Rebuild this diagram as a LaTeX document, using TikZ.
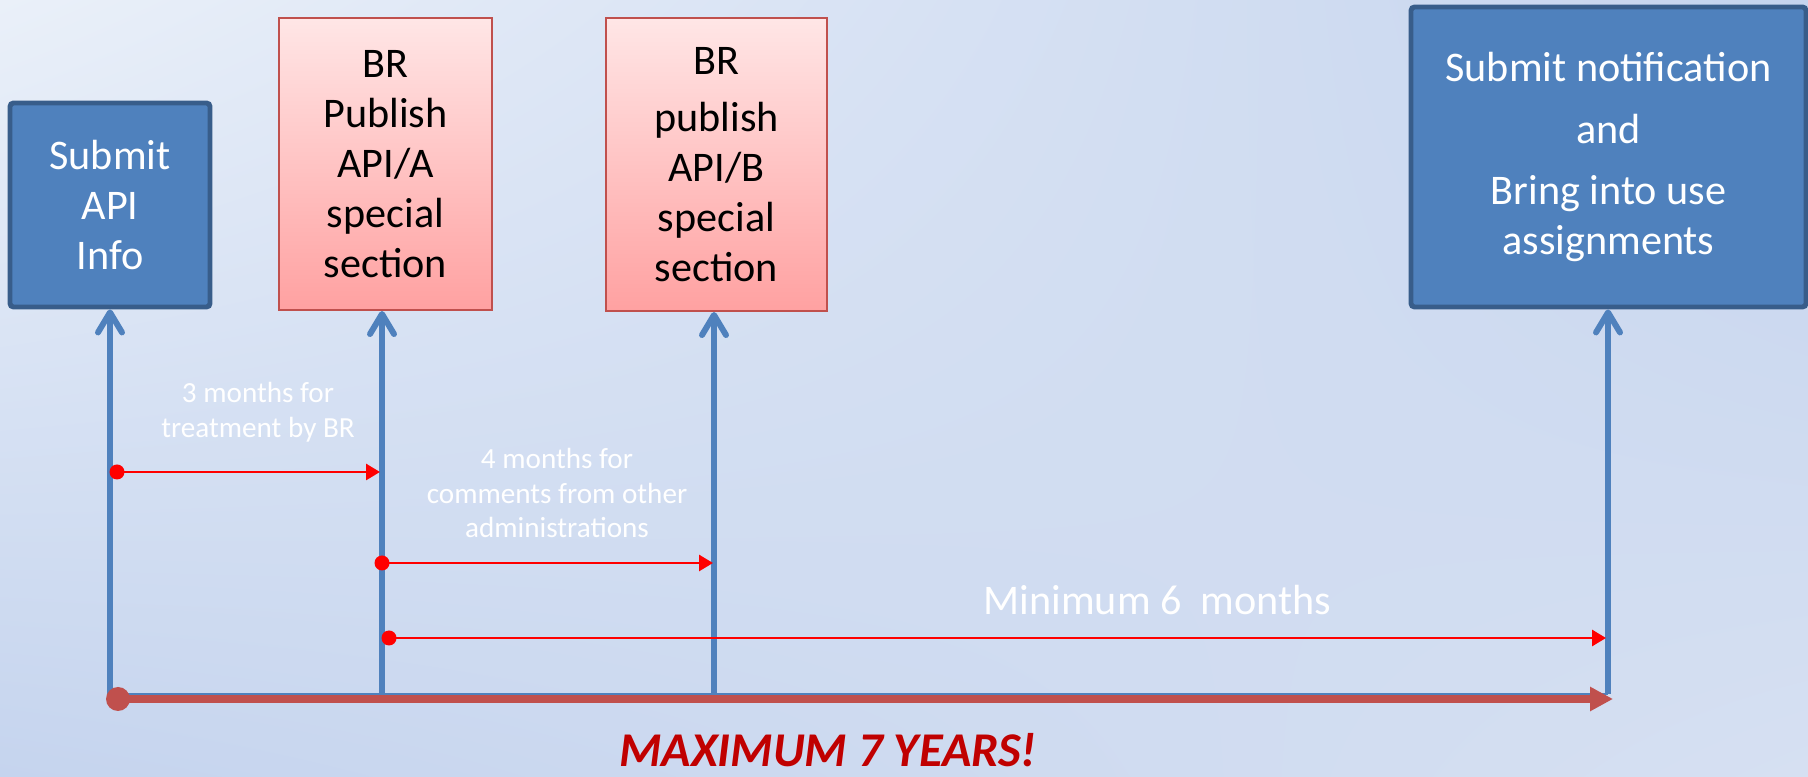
\documentclass[tikz,border=0pt]{standalone}
\usepackage{fontspec}
\setmainfont{Carlito}
\usetikzlibrary{arrows.meta}
\usetikzlibrary{shadings}

\definecolor{boxblue}{HTML}{4F81BD}
\definecolor{boxline}{HTML}{385D8A}
\definecolor{pinktop}{HTML}{FFE6E6}
\definecolor{pinkbot}{HTML}{FFA1A1}
\definecolor{pinkline}{HTML}{C0504D}
\definecolor{axisred}{HTML}{C0504D}
\definecolor{darkred}{HTML}{C00000}
\definecolor{bgtl}{HTML}{EAF0F9}
\definecolor{bgtr}{HTML}{C5D4EE}
\definecolor{bgbl}{HTML}{C5D4EE}
\definecolor{bgbr}{HTML}{D6E0F2}

\begin{document}
\begin{tikzpicture}[
      bluebox/.style={draw=boxline, line width=1.4pt, fill=boxblue, rounded corners=1pt,
          text=white, align=center, inner sep=0pt, font=\fontsize{12}{14.2}\selectfont},
      pinkbox/.style={draw=pinkline, line width=0.6pt, top color=pinktop, bottom color=pinkbot,
          align=center, inner sep=0pt, font=\fontsize{12}{14.2}\selectfont},
      note/.style={text=white, align=center, font=\fontsize{8.3}{9.9}\selectfont},
      up/.style={draw=boxblue, line width=1.7pt, -{Straight Barb[round, length=2mm, width=2.4mm]}},
      span/.style={draw=red, line width=0.8pt, -{Triangle[length=1.4mm, width=1.6mm]}},
      ]
        \shade[upper left=bgtl, upper right=bgtr, lower left=bgbl, lower right=bgbr]
            (0,0) rectangle (18.08,7.77);
        \useasboundingbox (0,0) rectangle (18.08,7.77);

        \node[bluebox, minimum width=2cm, minimum height=2.04cm] (api) at (1.10,5.72)
            {Submit\\API\\Info};
        \node[pinkbox, minimum width=2.13cm, minimum height=2.92cm] (brA) at (3.855,6.13)
            {BR\\Publish\\API/A\\special\\section};
        \node[pinkbox, minimum width=2.21cm, minimum height=2.93cm] (brB) at (7.165,6.125)
            {BR\\[2.3pt]publish\\API/B\\special\\section};
        \node[bluebox, minimum width=3.95cm, minimum height=3cm] (notif) at (16.085,6.20)
            {Submit notification\\[3.4pt]and\\[3.4pt]Bring into use\\assignments};

        \coordinate (b1) at (1.10,0.83);
        \coordinate (b2) at (3.82,0.83);
        \coordinate (b3) at (7.14,0.83);
        \coordinate (b4) at (16.08,0.83);

        \draw[boxblue, line width=0.85pt] (b1) -- (b4);
        \foreach \b/\n in {b1/api, b2/brA, b3/brB, b4/notif}
            \draw[up] (\b) -- (\b |- \n.south);

        \coordinate (t0) at (1.18,0.78);
        \coordinate (t1) at (16.13,0.78);
        \draw[axisred, line width=2.3pt, -{Triangle[length=2.3mm, width=2.3mm]}] (t0) -- (t1);
        \fill[axisred] (t0) circle (0.12);

        \coordinate (s1) at (1.17,3.05);
        \coordinate (e1) at (3.80,3.05);
        \coordinate (s2) at (3.82,2.14);
        \coordinate (e2) at (7.13,2.14);
        \coordinate (s3) at (3.89,1.39);
        \coordinate (e3) at (16.06,1.39);

        \foreach \s/\e in {s1/e1, s2/e2, s3/e3} {
            \draw[span] (\s) -- (\e);
            \fill[red] (\s) circle (0.075);
        }

        \node[note] (m3) at (2.58,3.65) {3 months for\\treatment by BR};
        \node[note] (m4) at (5.57,2.84) {4 months for\\comments from other\\administrations};
        \node[text=white, font=\fontsize{12}{14}\selectfont] (m6) at (11.575,1.77)
            {Minimum 6\ \ months};
        \node[text=darkred, font=\fontsize{13.8}{16}\selectfont\bfseries\itshape, anchor=base,
            inner sep=0pt] (y7) at (8.28,0.10) {MAXIMUM 7 YEARS!};

        \end{tikzpicture}
\end{document}
